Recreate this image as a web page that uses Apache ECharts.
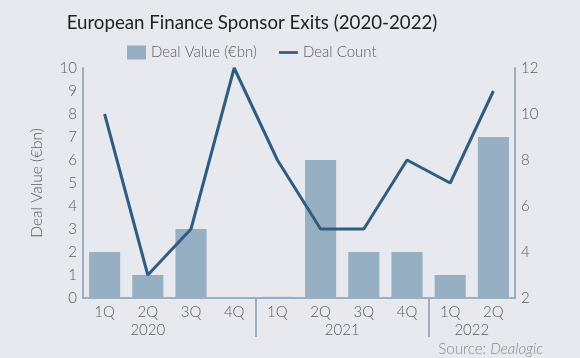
<!DOCTYPE html>
<html><head><meta charset="utf-8">
<script src="https://cdn.jsdelivr.net/npm/echarts@6/dist/echarts.min.js"></script>
<style>html,body{margin:0;padding:0;background:#e7e9ee;}#c{width:580px;height:358px;}</style>
</head><body><div id="c"></div>
<script>
const quarters = ['1Q','2Q','3Q','4Q','1Q','2Q','3Q','4Q','1Q','2Q'];
const dealValue = [2, 1, 3, 0, 0.05, 6, 2, 2, 1, 7];
const dealCount = [10, 3, 5, 12, 8, 5, 5, 8, 7, 11];
const yearLabels = {3: '2020', 12: '2021', 18: '2022'};
const separatorSlots = [8, 16];

const slots = [];
for (let i = 0; i <= 20; i++) slots.push(yearLabels[i] || '');

const font = 'Lato';
const gray = '#5c5c5c';
const axisCol = '#9aafc2';

const chart = echarts.init(document.getElementById('c'));
chart.setOption({
  backgroundColor: '#e7e9ee',
  textStyle: {fontFamily: font},
  title: [{
    text: 'European Finance Sponsor Exits (2020-2022)',
    left: 247, top: 8, textAlign: 'center',
    textStyle: {fontFamily: font, fontSize: 18.7, fontWeight: 'normal', color: '#222'}
  }, {
    text: '{a|Source: }{b|Dealogic}',
    right: 32, top: 337,
    textStyle: {rich: {
      a: {fontFamily: font, fontSize: 15, color: '#888', fontWeight: 300},
      b: {fontFamily: font, fontSize: 15, color: '#888', fontStyle: 'italic', fontWeight: 300}
    }}
  }],
  legend: {
    left: 122, top: 40, itemGap: 22, itemWidth: 19, itemHeight: 14,
    textStyle: {fontFamily: font, fontSize: 15, color: gray, fontWeight: 300},
    data: [{name: 'Deal Value (€bn)', icon: 'rect'},
           {name: 'Deal Count', icon: 'path://M0,0 L21,0 L21,3 L0,3 Z', itemStyle: {color: '#2f5d82'}}]
  },
  grid: {left: 83, right: 65, top: 68, bottom: 60},
  xAxis: [{
    type: 'category', data: quarters,
    axisLine: {show: true, lineStyle: {color: axisCol, width: 2}},
    axisTick: {show: false},
    axisLabel: {fontFamily: font, fontSize: 15, color: gray, margin: 7, fontWeight: 300}
  }, {
    type: 'category', data: slots, boundaryGap: false, position: 'bottom',
    axisLine: {show: false},
    axisTick: {show: true, length: 39, lineStyle: {color: axisCol, width: 2},
      interval: function (i) { return separatorSlots.indexOf(i) >= 0; }},
    axisLabel: {interval: 0, fontFamily: font, fontSize: 15, color: gray, margin: 25, fontWeight: 300}
  }],
  yAxis: [{
    type: 'value', min: 0, max: 10, interval: 1,
    name: 'Deal Value (€bn)', nameLocation: 'middle', nameGap: 38,
    nameTextStyle: {fontFamily: font, fontSize: 15.5, color: gray, fontWeight: 300},
    axisLine: {show: true, lineStyle: {color: axisCol, width: 2}},
    axisTick: {show: false}, splitLine: {show: false},
    axisLabel: {fontFamily: font, fontSize: 15, color: gray, margin: 6, fontWeight: 300}
  }, {
    type: 'value', min: 2, max: 12, interval: 2, position: 'right',
    axisLine: {show: true, lineStyle: {color: axisCol, width: 2}},
    axisTick: {show: false}, splitLine: {show: false},
    axisLabel: {fontFamily: font, fontSize: 15, color: gray, margin: 6, fontWeight: 300}
  }],
  series: [{
    name: 'Deal Value (€bn)', type: 'bar', data: dealValue, barWidth: '72%',
    itemStyle: {color: '#97afc3'}, z: 1
  }, {
    name: 'Deal Count', type: 'line', data: dealCount, yAxisIndex: 1,
    symbol: 'none', lineStyle: {color: '#2f5d82', width: 3}, itemStyle: {color: '#2f5d82'}, z: 3
  }]
});
</script></body></html>
